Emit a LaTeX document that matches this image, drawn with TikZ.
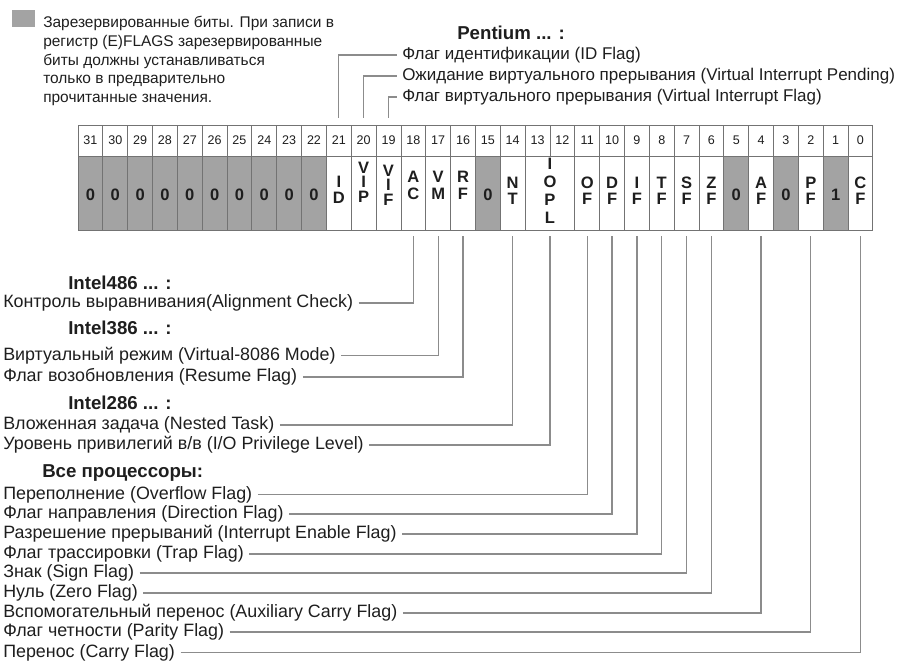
\documentclass[tikz,border=0pt]{standalone}
\usepackage{fontspec}
\setmainfont{Liberation Sans}
\definecolor{cellgray}{RGB}{163,163,163}
\definecolor{txt}{RGB}{30,30,30}
\definecolor{linegray}{RGB}{140,140,140}
\definecolor{bordergray}{RGB}{115,115,115}
\tikzset{
  x=0.75pt, y=-0.75pt,
  lbl/.style={anchor=west, inner sep=0pt, font=\fontsize{13.4pt}{15pt}\selectfont, text=txt},
  toplbl/.style={anchor=west, inner sep=0pt, font=\fontsize{12.75pt}{14pt}\selectfont, text=txt},
  grouphead/.style={anchor=west, inner sep=0pt, font=\fontsize{14pt}{16pt}\selectfont\bfseries, text=txt},
  legendtext/.style={anchor=north west, inner sep=0pt, align=left, font=\fontsize{11.6pt}{14.06pt}\selectfont, text=txt},
  conn/.style={draw=linegray, line width=1pt},
  hcell/.style={draw=bordergray, line width=0.6pt, fill=white, minimum width=18.63pt, minimum height=23.25pt, inner sep=0pt, font=\fontsize{9.4pt}{10pt}\selectfont, text=txt},
  bcell/.style={draw=bordergray, line width=0.6pt, fill=white, minimum width=18.63pt, minimum height=55.5pt, inner sep=0pt},
  gcell/.style={bcell, fill=cellgray},
  stack/.style={inner sep=0pt, align=center, text=txt, font=\fontsize{12.4pt}{#1}\selectfont\bfseries},
  stack/.default=12pt
}
\begin{document}
\begin{tikzpicture}
\path[use as bounding box] (0,0) rectangle (914,665);

% legend
\node[fill=cellgray, minimum width=17.25pt, minimum height=12.75pt, inner sep=0pt] (legsq) at (23.5,18) {};
\node[legendtext] (legtext) at (43,16) {Зарезервированные биты. При записи в\\регистр (E)FLAGS зарезервированные\\биты должны устанавливаться\\только в предварительно\\прочитанные значения.};

% register header and body
\foreach \k in {0,...,31}{
  \node[hcell] (h\k) at ({78+(31-\k)*24.84+12.42},140.5) {\k};
}
\foreach \k in {31,30,29,28,27,26,25,24,23,22,15,5,3,1}{
  \node[gcell] (b\k) at ({78+(31-\k)*24.84+12.42},193) {};
}
\foreach \k in {21,20,19,18,17,16,14,11,10,9,8,7,6,4,2,0}{
  \node[bcell] (b\k) at ({78+(31-\k)*24.84+12.42},193) {};
}
\node[bcell, minimum width=37.26pt] (b13) at ({78+19*24.84},193) {};

% cell contents
\foreach \k in {31,30,29,28,27,26,25,24,23,22,15,5,3}{
  \node[stack] (t\k) at (b\k |- 0,195) {0};
}
\node[stack] (t1) at (b1 |- 0,195) {1};
\node[stack] (t21) at (b21 |- 0,190) {I\\D};
\node[stack=10.9pt] (t20) at (b20 |- 0,182) {V\\I\\P};
\node[stack=10.9pt] (t19) at (b19 |- 0,185) {V\\I\\F};
\node[stack=12.75pt] (t18) at (b18 |- 0,185) {A\\C};
\node[stack=12.75pt] (t17) at (b17 |- 0,185) {V\\M};
\node[stack=12.75pt] (t16) at (b16 |- 0,185) {R\\F};
\node[stack] (t14) at (b14 |- 0,191) {N\\T};
\node[stack=13.5pt] (t13) at (b13 |- 0,191) {I\\O\\P\\L};
\node[stack] (t11) at (b11 |- 0,191) {O\\F};
\node[stack] (t10) at (b10 |- 0,191) {D\\F};
\node[stack] (t9) at (b9 |- 0,191) {I\\F};
\node[stack] (t8) at (b8 |- 0,191) {T\\F};
\node[stack] (t7) at (b7 |- 0,191) {S\\F};
\node[stack] (t6) at (b6 |- 0,191) {Z\\F};
\node[stack] (t4) at (b4 |- 0,191) {A\\F};
\node[stack] (t2) at (b2 |- 0,191) {P\\F};
\node[stack] (t0) at (b0 |- 0,191) {C\\F};

% top labels
\node[grouphead] (gPent) at (457,33) {Pentium ... :};
\node[toplbl] (lID) at (402,55) {Флаг идентификации (ID Flag)};
\node[toplbl] (lVIP) at (402,76) {Ожидание виртуального прерывания (Virtual Interrupt Pending)};
\node[toplbl] (lVIF) at (402,97) {Флаг виртуального прерывания (Virtual Interrupt Flag)};
\draw[conn] ([yshift=5pt]h21.north) |- ([xshift=-4pt]lID.west);
\draw[conn] ([yshift=5pt]h20.north) |- ([xshift=-4pt]lVIP.west);
\draw[conn] ([yshift=5pt]h19.north) |- ([xshift=-4pt]lVIF.west);

% bottom labels
\node[grouphead] (g486) at (68,282.5) {Intel486 ... :};
\node[lbl] (lAC) at (3,303) {Контроль выравнивания(Alignment Check)};
\node[grouphead] (g386) at (68,328) {Intel386 ... :};
\node[lbl] (lVM) at (3,355.5) {Виртуальный режим (Virtual-8086 Mode)};
\node[lbl] (lRF) at (3,377) {Флаг возобновления (Resume Flag)};
\node[grouphead] (g286) at (68,403) {Intel286 ... :};
\node[lbl] (lNT) at (3,425) {Вложенная задача (Nested Task)};
\node[lbl] (lIOPL) at (3,445) {Уровень привилегий в/в (I/O Privilege Level)};
\node[grouphead] (gAll) at (42,473) {Все процессоры:};
\node[lbl] (lOF) at (3,494.5) {Переполнение (Overflow Flag)};
\node[lbl] (lDF) at (3,514) {Флаг направления (Direction Flag)};
\node[lbl] (lIF) at (3,534) {Разрешение прерываний (Interrupt Enable Flag)};
\node[lbl] (lTF) at (3,554) {Флаг трассировки (Trap Flag)};
\node[lbl] (lSF) at (3,573) {Знак (Sign Flag)};
\node[lbl] (lZF) at (3,593) {Нуль (Zero Flag)};
\node[lbl] (lAF) at (3,613) {Вспомогательный перенос (Auxiliary Carry Flag)};
\node[lbl] (lPF) at (3,632) {Флаг четности (Parity Flag)};
\node[lbl] (lCF) at (3,652.5) {Перенос (Carry Flag)};

\draw[conn] ([xshift=4pt]lAC.east) -| ([yshift=-4pt]b18.south);
\draw[conn] ([xshift=4pt]lVM.east) -| ([yshift=-4pt]b17.south);
\draw[conn] ([xshift=4pt]lRF.east) -| ([yshift=-4pt]b16.south);
\draw[conn] ([xshift=4pt]lNT.east) -| ([yshift=-4pt]b14.south);
\draw[conn] ([xshift=4pt]lIOPL.east) -| ([yshift=-4pt]b13.south);
\draw[conn] ([xshift=4pt]lOF.east) -| ([yshift=-4pt]b11.south);
\draw[conn] ([xshift=4pt]lDF.east) -| ([yshift=-4pt]b10.south);
\draw[conn] ([xshift=4pt]lIF.east) -| ([yshift=-4pt]b9.south);
\draw[conn] ([xshift=4pt]lTF.east) -| ([yshift=-4pt]b8.south);
\draw[conn] ([xshift=4pt]lSF.east) -| ([yshift=-4pt]b7.south);
\draw[conn] ([xshift=4pt]lZF.east) -| ([yshift=-4pt]b6.south);
\draw[conn] ([xshift=4pt]lAF.east) -| ([yshift=-4pt]b4.south);
\draw[conn] ([xshift=4pt]lPF.east) -| ([yshift=-4pt]b2.south);
\draw[conn] ([xshift=4pt]lCF.east) -| ([yshift=-4pt]b0.south);
\end{tikzpicture}
\end{document}
